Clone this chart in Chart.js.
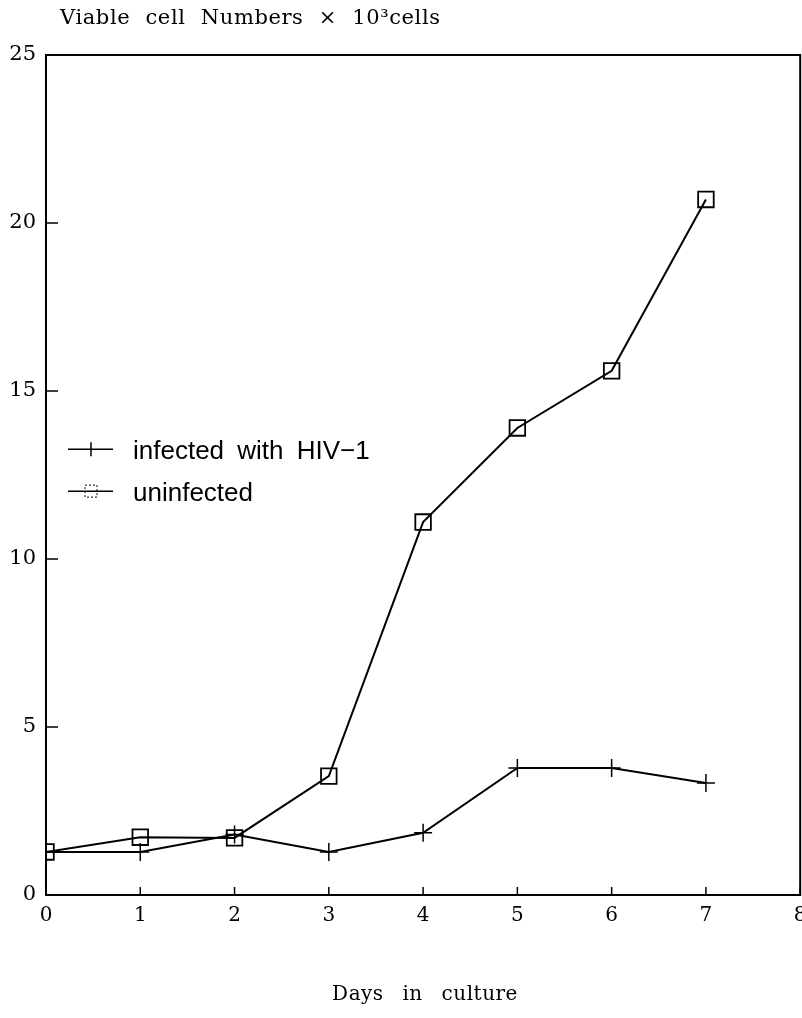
<!DOCTYPE html>
<html lang="en">
<head>
    <meta charset="UTF-8">
    <title>Viable cell numbers</title>
    <style>
        html, body { margin: 0; padding: 0; background: #ffffff; overflow: hidden; }
        .chart-container { position: relative; width: 813px; height: 1018px; }
    </style>
</head>
<body>
    <div class="chart-container">
        <canvas id="cellChart"></canvas>
    </div>

    <script src="https://cdn.jsdelivr.net/npm/chart.js"></script>
    <script>
        // values
        const days = [0, 1, 2, 3, 4, 5, 6, 7];
        const infected = [1.28, 1.28, 1.8, 1.28, 1.85, 3.78, 3.78, 3.33];
        const uninfected = [1.28, 1.72, 1.7, 3.54, 11.1, 13.9, 15.6, 20.7];
        const xTicks = [0, 1, 2, 3, 4, 5, 6, 7, 8];
        const yTicks = [0, 5, 10, 15, 20, 25];

        const yTitle = 'Viable cell Numbers \u00D7 10\u00B3cells';
        const xTitle = 'Days in culture';
        const legendLabels = ['infected with HIV\u22121', 'uninfected'];

        const serif = '"DejaVu Serif", "Liberation Serif", serif';
        const sans = '"Liberation Sans", Arial, sans-serif';

        // frame, inward ticks, titles and the legend drawn inside the plot
        const decorations = {
            id: 'decorations',
            afterDraw(chart) {
                const c = chart.ctx;
                const area = chart.chartArea;
                const xs = chart.scales.x;
                const ys = chart.scales.y;
                c.save();
                c.strokeStyle = '#000';
                c.lineWidth = 2;
                c.strokeRect(area.left, area.top, area.right - area.left, area.bottom - area.top);

                c.lineWidth = 1.5;
                yTicks.forEach(v => {
                    const y = ys.getPixelForValue(v);
                    c.beginPath();
                    c.moveTo(area.left, y);
                    c.lineTo(area.left + 12, y);
                    c.stroke();
                });
                xTicks.forEach(v => {
                    const x = xs.getPixelForValue(v);
                    c.beginPath();
                    c.moveTo(x, area.bottom);
                    c.lineTo(x, area.bottom - 8);
                    c.stroke();
                });

                c.fillStyle = '#000';
                c.font = '21px ' + serif;
                c.letterSpacing = '0.6px';
                c.wordSpacing = '8px';
                c.textBaseline = 'middle';
                c.textAlign = 'left';
                c.fillText(yTitle, 60, 19);

                c.textAlign = 'center';
                c.font = '20px ' + serif;
                c.letterSpacing = '0.5px';
                c.wordSpacing = '12px';
                c.fillText(xTitle, 425, 995);
                c.letterSpacing = '0px';

                // legend
                c.textAlign = 'left';
                c.font = '26px ' + sans;
                c.wordSpacing = '6px';
                const rows = [ys.getPixelForValue(13.27), ys.getPixelForValue(12.02)];
                rows.forEach((y, i) => {
                    c.lineWidth = 1.5;
                    c.beginPath();
                    c.moveTo(area.left + 22, y);
                    c.lineTo(area.left + 67, y);
                    c.stroke();
                    const cx = area.left + 45;
                    if (i === 0) {
                        c.beginPath();
                        c.moveTo(cx, y - 7);
                        c.lineTo(cx, y + 7);
                        c.stroke();
                    } else {
                        c.lineWidth = 1;
                        c.setLineDash([2, 2]);
                        c.strokeRect(cx - 6, y - 6, 12, 12);
                        c.setLineDash([]);
                    }
                    c.fillText(legendLabels[i], area.left + 87, y + 3);
                });
                c.restore();
            }
        };

        const ctx = document.getElementById('cellChart').getContext('2d');
        const cellChart = new Chart(ctx, {
            type: 'line',
            data: {
                datasets: [
                    {
                        label: legendLabels[0],
                        data: days.map((d, i) => ({ x: d, y: infected[i] })),
                        borderColor: '#000',
                        borderWidth: 2,
                        pointStyle: 'cross',
                        pointRadius: 9,
                        pointBorderWidth: 1.5,
                        pointBorderColor: '#000',
                        fill: false,
                        tension: 0
                    },
                    {
                        label: legendLabels[1],
                        data: days.map((d, i) => ({ x: d, y: uninfected[i] })),
                        borderColor: '#000',
                        borderWidth: 2,
                        pointStyle: 'rect',
                        pointRadius: 11,
                        pointBorderWidth: 1.8,
                        pointBorderColor: '#000',
                        pointBackgroundColor: 'rgba(0,0,0,0)',
                        fill: false,
                        tension: 0
                    }
                ]
            },
            options: {
                responsive: true,
                maintainAspectRatio: false,
                animation: false,
                layout: { padding: { top: 55, right: 0, left: 0, bottom: 0 } },
                plugins: {
                    legend: { display: false },
                    tooltip: { enabled: false }
                },
                scales: {
                    x: {
                        type: 'linear',
                        min: 0,
                        max: 8,
                        afterBuildTicks: axis => { axis.ticks = xTicks.map(v => ({ value: v })); },
                        afterFit: axis => {
                            axis.height = 123;
                            axis.paddingLeft = 0;
                            axis.paddingRight = 0;
                        },
                        grid: { display: false, drawTicks: false },
                        border: { display: false },
                        ticks: {
                            color: '#000',
                            padding: 9,
                            maxRotation: 0,
                            font: { size: 20, family: serif }
                        }
                    },
                    y: {
                        min: 0,
                        max: 25,
                        afterBuildTicks: axis => { axis.ticks = yTicks.map(v => ({ value: v })); },
                        afterFit: axis => { axis.width = 46; },
                        grid: { display: false, drawTicks: false },
                        border: { display: false },
                        ticks: {
                            color: '#000',
                            padding: 10,
                            font: { size: 21, family: serif }
                        }
                    }
                }
            },
            plugins: [decorations]
        });
    </script>
</body>
</html>
